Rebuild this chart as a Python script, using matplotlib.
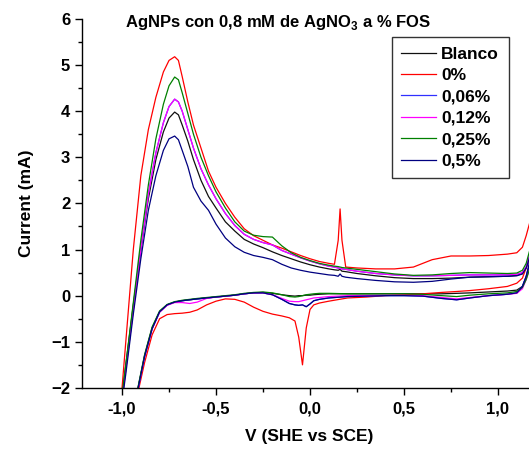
import matplotlib
matplotlib.use("Agg")
import matplotlib.pyplot as plt
from matplotlib.ticker import MultipleLocator

plt.rcParams["font.family"] = ["Liberation Sans", "DejaVu Sans"]
plt.rcParams["font.weight"] = "bold"
plt.rcParams["mathtext.fontset"] = "custom"
plt.rcParams["mathtext.rm"] = "Liberation Sans:bold"
plt.rcParams["mathtext.bf"] = "Liberation Sans:bold"

# potential grid, forward (anodic) scan
E_up = [-1.02, -0.98, -0.94, -0.90, -0.86, -0.82, -0.78, -0.75, -0.72, -0.70,
        -0.68, -0.65, -0.62, -0.58, -0.54, -0.50, -0.45, -0.40, -0.35, -0.30,
        -0.25, -0.20, -0.15, -0.10, -0.05, 0.0, 0.05, 0.10, 0.13, 0.15,
        0.16, 0.17, 0.19, 0.25, 0.35, 0.45, 0.55, 0.65, 0.75, 0.85,
        0.95, 1.05, 1.10, 1.13, 1.15, 1.17, 1.20]

# potential grid, reverse scan
E_dn = [1.20, 1.17, 1.15, 1.13, 1.10, 1.05, 0.95, 0.85, 0.78, 0.70,
        0.60, 0.50, 0.40, 0.30, 0.20, 0.10, 0.05, 0.02, 0.0, -0.02,
        -0.04, -0.06, -0.08, -0.11, -0.15, -0.20, -0.25, -0.30, -0.35, -0.40,
        -0.45, -0.50, -0.55, -0.60, -0.64, -0.68, -0.72, -0.76, -0.80, -0.84,
        -0.88, -0.91, -0.94, -0.97]

labels = ["Blanco", "0%", "0,06%", "0,12%", "0,25%", "0,5%"]
colors = ["#101010", "#ff0000", "#3030ff", "#ff00ff", "#008000", "#000080"]

I_up_blanco = [-2.8, -1.5, -0.2, 1.0, 2.1, 2.95, 3.55, 3.85, 3.98, 3.92,
               3.7, 3.35, 2.95, 2.5, 2.15, 1.9, 1.6, 1.4, 1.22, 1.12,
               1.04, 0.95, 0.87, 0.8, 0.73, 0.67, 0.62, 0.58, 0.56, 0.55,
               0.57, 0.53, 0.52, 0.48, 0.43, 0.39, 0.37, 0.37, 0.38, 0.40,
               0.41, 0.42, 0.44, 0.48, 0.6, 0.85, 1.4]
I_dn_blanco = [1.2, 0.7, 0.4, 0.2, 0.12, 0.1, 0.08, 0.06, 0.05, 0.04,
               0.04, 0.04, 0.04, 0.04, 0.04, 0.04, 0.03, 0.02, 0.01, 0.01,
               0.0, 0.0, -0.01, 0.0, 0.02, 0.05, 0.07, 0.06, 0.04, 0.01,
               -0.01, -0.03, -0.05, -0.07, -0.09, -0.11, -0.14, -0.2, -0.35, -0.7,
               -1.3, -1.9, -2.5, -3.1]

I_up_0 = [-3.0, -1.0, 1.0, 2.6, 3.6, 4.3, 4.85, 5.1, 5.18, 5.1,
          4.75, 4.2, 3.7, 3.2, 2.7, 2.35, 2.0, 1.7, 1.45, 1.3,
          1.2, 1.1, 1.03, 0.95, 0.87, 0.8, 0.74, 0.70, 0.68, 1.2,
          1.88, 1.2, 0.62, 0.6, 0.58, 0.58, 0.62, 0.78, 0.86, 0.86,
          0.87, 0.9, 0.93, 1.05, 1.3, 1.6, 2.2]
I_dn_0 = [1.3, 0.85, 0.6, 0.38, 0.27, 0.2, 0.15, 0.11, 0.09, 0.07,
          0.04, 0.02, 0.0, -0.03, -0.05, -0.12, -0.16, -0.2, -0.3, -0.7,
          -1.5, -0.9, -0.55, -0.48, -0.44, -0.4, -0.34, -0.25, -0.14, -0.08,
          -0.07, -0.12, -0.2, -0.31, -0.36, -0.38, -0.39, -0.41, -0.5, -0.85,
          -1.45, -2.0, -2.6, -3.2]

I_up_006 = [-2.9, -1.6, -0.3, 1.0, 2.2, 3.1, 3.75, 4.1, 4.26, 4.2,
            4.0, 3.6, 3.2, 2.75, 2.4, 2.1, 1.78, 1.52, 1.33, 1.22,
            1.15, 1.1, 0.98, 0.9, 0.82, 0.75, 0.69, 0.64, 0.62, 0.6,
            0.59, 0.58, 0.57, 0.53, 0.48, 0.45, 0.43, 0.43, 0.44, 0.45,
            0.45, 0.45, 0.46, 0.5, 0.62, 0.9, 1.5]
I_dn_006 = [1.3, 0.75, 0.42, 0.2, 0.06, 0.03, 0.0, -0.05, -0.09, -0.06,
            -0.01, 0.0, 0.0, -0.01, -0.02, -0.05, -0.08, -0.11, -0.18, -0.24,
            -0.2, -0.21, -0.2, -0.17, -0.08, 0.02, 0.06, 0.06, 0.04, 0.01,
            -0.01, -0.03, -0.05, -0.07, -0.09, -0.11, -0.14, -0.2, -0.35, -0.72,
            -1.32, -1.92, -2.55, -3.15]

I_up_012 = [-2.9, -1.6, -0.3, 1.0, 2.2, 3.1, 3.75, 4.1, 4.26, 4.2,
            4.0, 3.6, 3.2, 2.75, 2.4, 2.1, 1.78, 1.52, 1.33, 1.22,
            1.15, 1.1, 0.98, 0.9, 0.82, 0.75, 0.69, 0.64, 0.62, 0.6,
            0.59, 0.58, 0.57, 0.53, 0.48, 0.45, 0.43, 0.43, 0.44, 0.45,
            0.45, 0.45, 0.46, 0.5, 0.62, 0.9, 1.5]
I_dn_012 = [1.1, 0.6, 0.35, 0.15, 0.05, 0.03, 0.0, -0.04, -0.07, -0.04,
            0.0, 0.01, 0.01, 0.0, 0.0, -0.02, -0.04, -0.05, -0.07, -0.09,
            -0.11, -0.13, -0.13, -0.12, -0.06, 0.02, 0.06, 0.06, 0.04, 0.01,
            -0.01, -0.03, -0.06, -0.14, -0.17, -0.15, -0.15, -0.21, -0.36, -0.72,
            -1.32, -1.92, -2.55, -3.15]

I_up_025 = [-2.8, -1.5, -0.15, 1.2, 2.4, 3.4, 4.15, 4.55, 4.74, 4.68,
            4.4, 3.95, 3.5, 3.0, 2.6, 2.25, 1.9, 1.6, 1.4, 1.31,
            1.28, 1.27, 1.08, 0.93, 0.83, 0.76, 0.7, 0.66, 0.64, 0.63,
            0.62, 0.61, 0.6, 0.57, 0.52, 0.47, 0.44, 0.45, 0.48, 0.5,
            0.49, 0.48, 0.49, 0.55, 0.7, 1.0, 1.6]
I_dn_025 = [1.0, 0.6, 0.35, 0.18, 0.09, 0.06, 0.04, 0.01, -0.02, 0.0,
            0.03, 0.04, 0.04, 0.04, 0.04, 0.05, 0.05, 0.04, 0.03, 0.02,
            0.0, -0.02, -0.03, -0.02, 0.02, 0.06, 0.08, 0.07, 0.05, 0.02,
            0.0, -0.02, -0.04, -0.06, -0.08, -0.1, -0.13, -0.19, -0.33, -0.68,
            -1.28, -1.88, -2.5, -3.1]

I_up_05 = [-2.9, -1.7, -0.4, 0.8, 1.85, 2.6, 3.15, 3.4, 3.46, 3.38,
           3.15, 2.8, 2.35, 2.05, 1.85, 1.55, 1.25, 1.06, 0.94, 0.87,
           0.83, 0.78, 0.68, 0.6, 0.55, 0.51, 0.48, 0.45, 0.44, 0.42,
           0.47, 0.42, 0.4, 0.37, 0.33, 0.3, 0.29, 0.31, 0.36, 0.4,
           0.41, 0.42, 0.43, 0.47, 0.6, 0.85, 1.4]
I_dn_05 = [1.3, 0.75, 0.42, 0.2, 0.06, 0.03, 0.0, -0.05, -0.09, -0.06,
           -0.01, 0.0, 0.0, -0.01, -0.02, -0.05, -0.08, -0.11, -0.18, -0.24,
           -0.2, -0.21, -0.2, -0.17, -0.08, 0.02, 0.06, 0.06, 0.04, 0.01,
           -0.01, -0.03, -0.05, -0.07, -0.09, -0.11, -0.14, -0.2, -0.35, -0.72,
           -1.32, -1.92, -2.55, -3.15]

I_up_all = [I_up_blanco, I_up_0, I_up_006, I_up_012, I_up_025, I_up_05]
I_dn_all = [I_dn_blanco, I_dn_0, I_dn_006, I_dn_012, I_dn_025, I_dn_05]

x_ticks = [-1.0, -0.5, 0.0, 0.5, 1.0]
x_tick_labels = ["-1,0", "-0,5", "0,0", "0,5", "1,0"]
y_ticks = [-2, -1, 0, 1, 2, 3, 4, 5, 6]

fig = plt.figure(figsize=(5.29, 4.5), dpi=100)
ax = fig.add_axes([0.155, 0.138, 0.845, 0.82])

for lab, col, iu, idn in zip(labels, colors, I_up_all, I_dn_all):
    ax.plot(E_up + E_dn, iu + idn, color=col, lw=0.9, label=lab)

ax.set_xlim(-1.213, 1.165)
ax.set_ylim(-2, 6)

ax.spines["top"].set_visible(False)
ax.spines["right"].set_visible(False)
ax.spines["left"].set_linewidth(1.0)
ax.spines["bottom"].set_linewidth(1.0)

ax.set_xticks(x_ticks)
ax.set_xticklabels(x_tick_labels)
ax.set_yticks(y_ticks)
ax.xaxis.set_minor_locator(MultipleLocator(0.25))
ax.yaxis.set_minor_locator(MultipleLocator(0.5))
ax.tick_params(which="major", direction="out", length=5, width=1, labelsize=12)
ax.tick_params(axis="x", which="major", pad=4.5)
ax.tick_params(which="minor", direction="out", length=3, width=1)

ax.set_xlabel("V (SHE vs SCE)", fontsize=12.5, fontweight="bold", va="center")
ax.set_ylabel("Current (mA)", fontsize=12.5, fontweight="bold", va="center")
ax.xaxis.set_label_coords(0.508, -0.133)
ax.yaxis.set_label_coords(-0.125, 0.5)

fig.text(0.526, 0.94, "AgNPs con 0,8 mM de AgNO$_\\mathbf{3}$ a % FOS",
         ha="center", va="baseline", fontsize=12, fontweight="bold")

leg = ax.legend(loc="upper left", bbox_to_anchor=(0.693, 0.951), borderaxespad=0,
                frameon=True, fancybox=False, edgecolor="black", fontsize=12.5,
                handlelength=2.0, handletextpad=0.3, labelspacing=0.36,
                borderpad=0.55)
leg.get_frame().set_linewidth(1.0)
for t in leg.get_texts():
    t.set_fontweight("bold")

fig.savefig("out.png", dpi=100)
